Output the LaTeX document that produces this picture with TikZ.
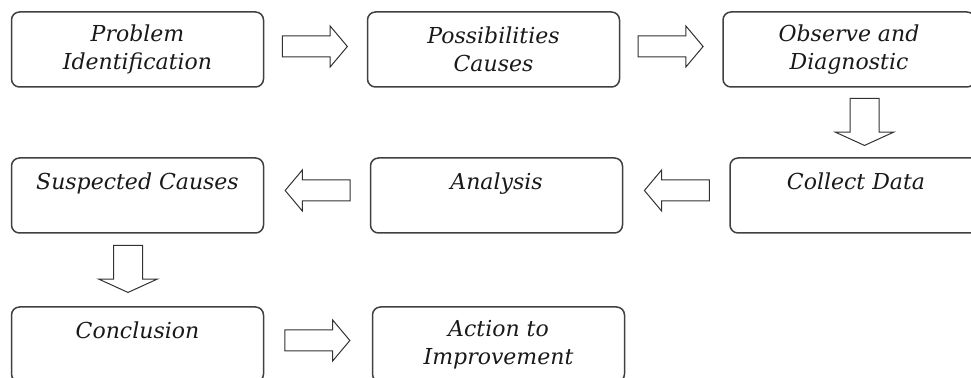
\documentclass[tikz,border=0pt]{standalone}
\usepackage{fontspec}
\setmainfont{DejaVu Serif}
\usepackage{tikz}
\usetikzlibrary{positioning, shapes.arrows, calc}
\definecolor{boxline}{RGB}{64,64,64}
\definecolor{arrowline}{RGB}{50,50,50}
\definecolor{steptext}{RGB}{25,25,25}

\tikzset{
    stepbox/.style={draw=boxline, line width=0.75pt, rounded corners=4pt,
        minimum width=126pt, minimum height=37.5pt, inner sep=0pt,
        align=center, text=steptext, font=\fontsize{11}{14}\selectfont\itshape},
    sidearrow/.style={single arrow, draw=arrowline, line width=0.5pt, fill=white,
        minimum height=32.5pt, minimum width=20pt, inner sep=5pt, anchor=tip,
        single arrow head extend=5pt, single arrow tip angle=100},
    downarrow/.style={single arrow, draw=arrowline, line width=0.5pt, fill=white,
        minimum height=23.5pt, minimum width=28.5pt, inner sep=7pt, anchor=tip,
        single arrow head extend=7.25pt, single arrow tip angle=131, rotate=-90}
}

\begin{document}
\begin{tikzpicture}[x=0.5pt, y=-0.5pt]
    \useasboundingbox (0,0) rectangle (971,378);

    % === PREMIERE LIGNE ===
    \node[stepbox] (ident) at (137.5, 49.5) {Problem\\Identification};
    \node[stepbox] (causes) at (493.5, 49.5) {Possibilities\\Causes};
    \node[stepbox] (observe) at (849, 49.5) {Observe and\\Diagnostic};

    % === DEUXIEME LIGNE ===
    \node[stepbox] (collect) at (856, 195.5) {Collect Data\\\mbox{}};
    \node[stepbox] (analysis) at (496.5, 195.5) {Analysis\\\mbox{}};
    \node[stepbox] (suspect) at (137.5, 195.5) {Suspected Causes\\\mbox{}};

    % === TROISIEME LIGNE ===
    \node[stepbox] (concl) at (137.5, 344.5) {Conclusion\\\mbox{}};
    \node[stepbox] (action) at (498.5, 344.5) {Action to\\Improvement};

    % Fleches entre les etapes (pointe placee a mi-chemin + demi-longueur)
    \node[sidearrow] (a1) at ($(ident.east)!0.5!(causes.west)+(32.5,-3)$) {};
    \node[sidearrow] (a2) at ($(causes.east)!0.5!(observe.west)+(32.5,-3)$) {};
    \node[downarrow] (a3) at ($(observe.south)!0.5!(collect.north)+(12,23.5)$) {};
    \node[sidearrow, rotate=180] (a4) at ($(collect.west)!0.5!(analysis.east)+(-32.5,-5)$) {};
    \node[sidearrow, rotate=180] (a5) at ($(analysis.west)!0.5!(suspect.east)+(-32.5,-5)$) {};
    \node[downarrow] (a6) at ($(suspect.south)!0.5!(concl.north)+(-9.5,23)$) {};
    \node[sidearrow] (a7) at ($(concl.east)!0.5!(action.west)+(32.5,-4)$) {};

\end{tikzpicture}
\end{document}
